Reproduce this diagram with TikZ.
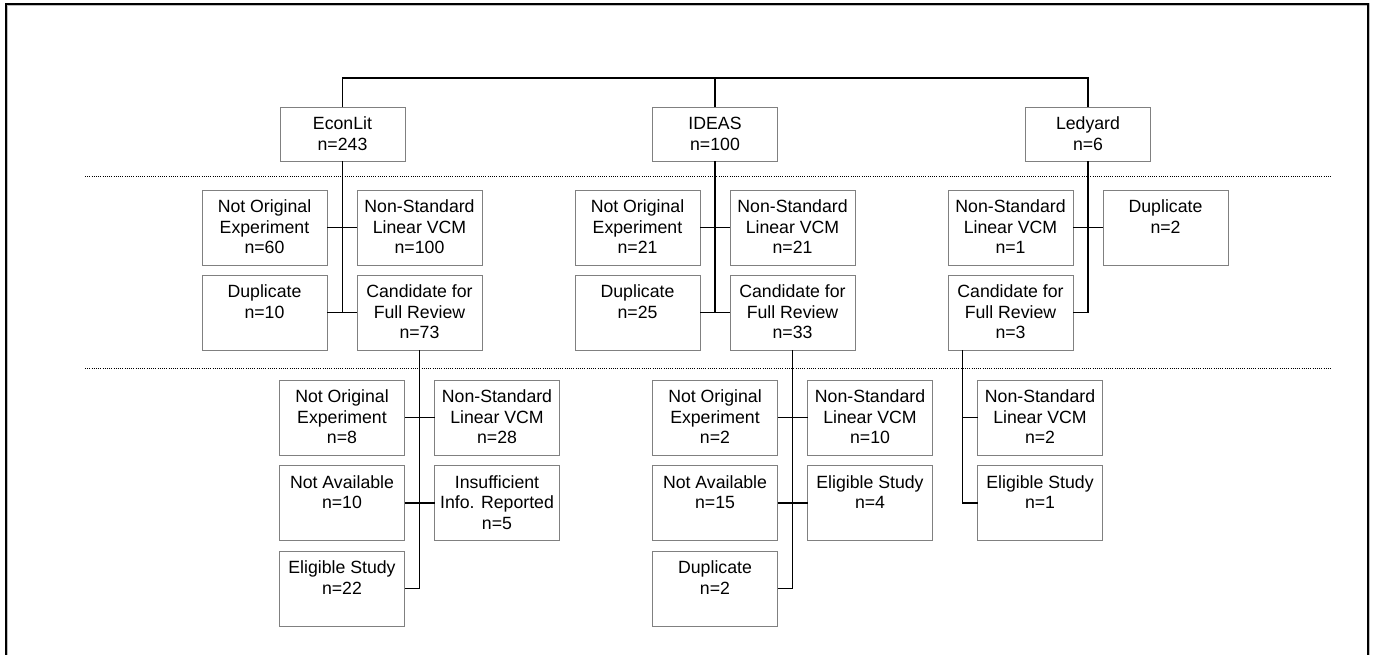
\documentclass[tikz,border=0pt]{standalone}
\usepackage{fontspec}
\setmainfont{Liberation Sans}
\definecolor{boxgray}{RGB}{128,128,128}
\definecolor{framegray}{RGB}{190,190,190}
\tikzset{
  bx/.style={draw=boxgray, line width=0.9pt, minimum width=125pt, inner sep=0pt, outer sep=0pt},
  tx/.style={inner sep=0pt, outer sep=0pt, align=center, font=\fontsize{17.7}{20.7}\selectfont},
  tr/.style={draw=black, line width=1.5pt},
  br/.style={draw=black, line width=1.1pt},
  dotline/.style={draw=black, line width=1pt, dash pattern=on 1pt off 1.2pt},
}
\newcommand{\mybox}[5]{%
  \node[bx, minimum height=#4, anchor=north west] (#1) at (#2,#3) {};
  \node[tx, anchor=north] (#1-t) at ([yshift=-8.5pt]#1.north) {\rule{0pt}{14pt}#5};
}
\begin{document}
\begin{tikzpicture}[x=1pt, y=-1pt]
\useasboundingbox (0,0) rectangle (1375,654);
% outer frame
\draw[framegray, line width=3pt] (6,660) -- (6,4) -- (1368,4) -- (1368,660);
\draw[black, line width=2pt] (6,660) -- (6,4) -- (1368,4) -- (1368,660);
% dotted separators
\coordinate (d1a) at (85,176); \coordinate (d1b) at (1331,176);
\coordinate (d2a) at (85,368); \coordinate (d2b) at (1331,368);
\draw[dotline] (d1a) -- (d1b);
\draw[dotline] (d2a) -- (d2b);

% level 1
\mybox{e1}{280}{107}{54pt}{EconLit\\n=243}
\mybox{i1}{652.5}{107}{54pt}{IDEAS\\n=100}
\mybox{l1}{1025.5}{107}{54pt}{Ledyard\\n=6}
\coordinate (topy) at (0,78);
\draw[tr] (e1.north) -- (e1.north |- topy) -- (l1.north |- topy) -- (l1.north);
\draw[tr] (i1.north) -- (i1.north |- topy);

% level 2 EconLit
\mybox{e2a}{202}{190}{75pt}{Not Original\\Experiment\\n=60}
\mybox{e2b}{357}{190}{75pt}{Non-Standard\\Linear VCM\\n=100}
\mybox{e2c}{202}{275}{75pt}{Duplicate\\n=10}
\mybox{e2d}{357}{275}{75pt}{Candidate for\\Full Review\\n=73}
\draw[tr] (e1.south) -- (e1.south |- e2d.west);
\draw[br] (e2a.east) -- (e2b.west);
\draw[br] (e2c.east) -- (e2d.west);

% level 2 IDEAS
\mybox{i2a}{575}{190}{75pt}{Not Original\\Experiment\\n=21}
\mybox{i2b}{730}{190}{75pt}{Non-Standard\\Linear VCM\\n=21}
\mybox{i2c}{575}{275}{75pt}{Duplicate\\n=25}
\mybox{i2d}{730}{275}{75pt}{Candidate for\\Full Review\\n=33}
\draw[tr] (i1.south) -- (i1.south |- i2d.west);
\draw[br] (i2a.east) -- (i2b.west);
\draw[br] (i2c.east) -- (i2d.west);

% level 2 Ledyard
\mybox{l2a}{948}{190}{75pt}{Non-Standard\\Linear VCM\\n=1}
\mybox{l2b}{1103}{190}{75pt}{Duplicate\\n=2}
\mybox{l2c}{948}{275}{75pt}{Candidate for\\Full Review\\n=3}
\draw[tr] (l1.south) -- (l1.south |- l2c.east) -- (l2c.east);
\draw[br] (l2a.east) -- (l2b.west);

% level 3 EconLit
\mybox{e3a}{279.5}{380}{75pt}{Not Original\\Experiment\\n=8}
\mybox{e3b}{434.5}{380}{75pt}{Non-Standard\\Linear VCM\\n=28}
\mybox{e3c}{279.5}{465.5}{75pt}{Not Available\\n=10}
\mybox{e3d}{434.5}{465.5}{75pt}{Insufficient\\Info. Reported\\n=5}
\mybox{e3e}{279.5}{551}{75pt}{Eligible Study\\n=22}
\draw[tr] (e2d.south) -- (e2d.south |- e3e.east) -- (e3e.east);
\draw[br] (e3a.east) -- (e3b.west);
\draw[br] (e3c.east) -- (e3d.west);

% level 3 IDEAS
\mybox{i3a}{652.5}{380}{75pt}{Not Original\\Experiment\\n=2}
\mybox{i3b}{807.5}{380}{75pt}{Non-Standard\\Linear VCM\\n=10}
\mybox{i3c}{652.5}{465.5}{75pt}{Not Available\\n=15}
\mybox{i3d}{807.5}{465.5}{75pt}{Eligible Study\\n=4}
\mybox{i3e}{652.5}{551}{75pt}{Duplicate\\n=2}
\draw[tr] (i2d.south) -- (i2d.south |- i3e.east) -- (i3e.east);
\draw[br] (i3a.east) -- (i3b.west);
\draw[br] (i3c.east) -- (i3d.west);

% level 3 Ledyard
\mybox{l3a}{977.5}{380}{75pt}{Non-Standard\\Linear VCM\\n=2}
\mybox{l3b}{977.5}{465.5}{75pt}{Eligible Study\\n=1}
\coordinate (lx) at ([xshift=-15pt]l3a.west);
\draw[tr] (l2c.south -| lx) -- (l3b.west -| lx) -- (l3b.west);
\draw[br] (lx) -- (l3a.west);
\end{tikzpicture}
\end{document}
